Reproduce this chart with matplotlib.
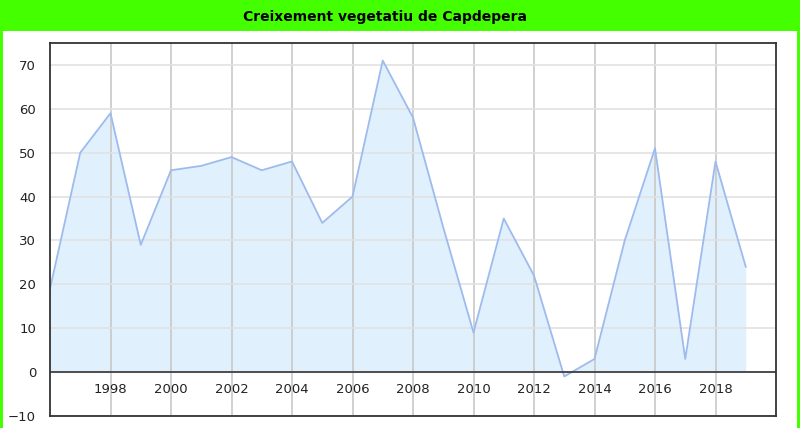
import matplotlib.pyplot as plt
import matplotlib.patches as mpatches

# Data
years = list(range(1996, 2020))
growth = [19, 50, 59, 29, 46, 47, 49, 46, 48, 34, 40, 71,
          58, 33, 9, 35, 22, -1, 3, 30, 51, 3, 48, 24]
title = 'Creixement vegetatiu de Capdepera'
xticks = list(range(1998, 2020, 2))
yticks = list(range(-10, 80, 10))

W, H = 800, 428
fig = plt.figure(figsize=(W / 100, H / 100), dpi=100)
fig.patch.set_facecolor('#44ff00')

# white panel under the green title band
fig.add_artist(mpatches.Rectangle((3 / W, 0), (W - 6) / W, (H - 31) / H,
                                  transform=fig.transFigure,
                                  facecolor='white', edgecolor='none', zorder=0))
fig.text(385 / W, 1 - 17 / H, title, ha='center', va='center',
         fontsize=10, fontweight='bold', family='DejaVu Sans', color='black')

ax = fig.add_axes([50 / W, 1 - 416 / H, (776 - 50) / W, (416 - 43) / H])
ax.set_facecolor('white')

ax.fill_between(years, growth, 0, color='#e1f0fd', linewidth=0, zorder=1)
ax.plot(years, growth, color='#9dbbee', linewidth=1.3, zorder=3)
ax.axhline(0, color='#333333', linewidth=1.2, zorder=4)

ax.set_xlim(1996, 2020)
ax.set_ylim(-10, 75)
ax.set_xticks(xticks)
ax.set_yticks(yticks)
ax.grid(axis='x', color='#c8c8c8', linewidth=1.2, zorder=2)
ax.grid(axis='y', color='#e2e2e2', linewidth=1.2, zorder=2)
ax.set_axisbelow(False)
for line in ax.get_xgridlines() + ax.get_ygridlines():
    line.set_zorder(2)

ax.tick_params(axis='x', length=0, pad=-24, labelsize=9.5, colors='#222222')
ax.tick_params(axis='y', length=0, pad=10, labelsize=9.5, colors='#222222')
for s in ax.spines.values():
    s.set_color('#333333')
    s.set_linewidth(1.3)
    s.set_zorder(5)

fig.savefig('out.png', dpi=100)
